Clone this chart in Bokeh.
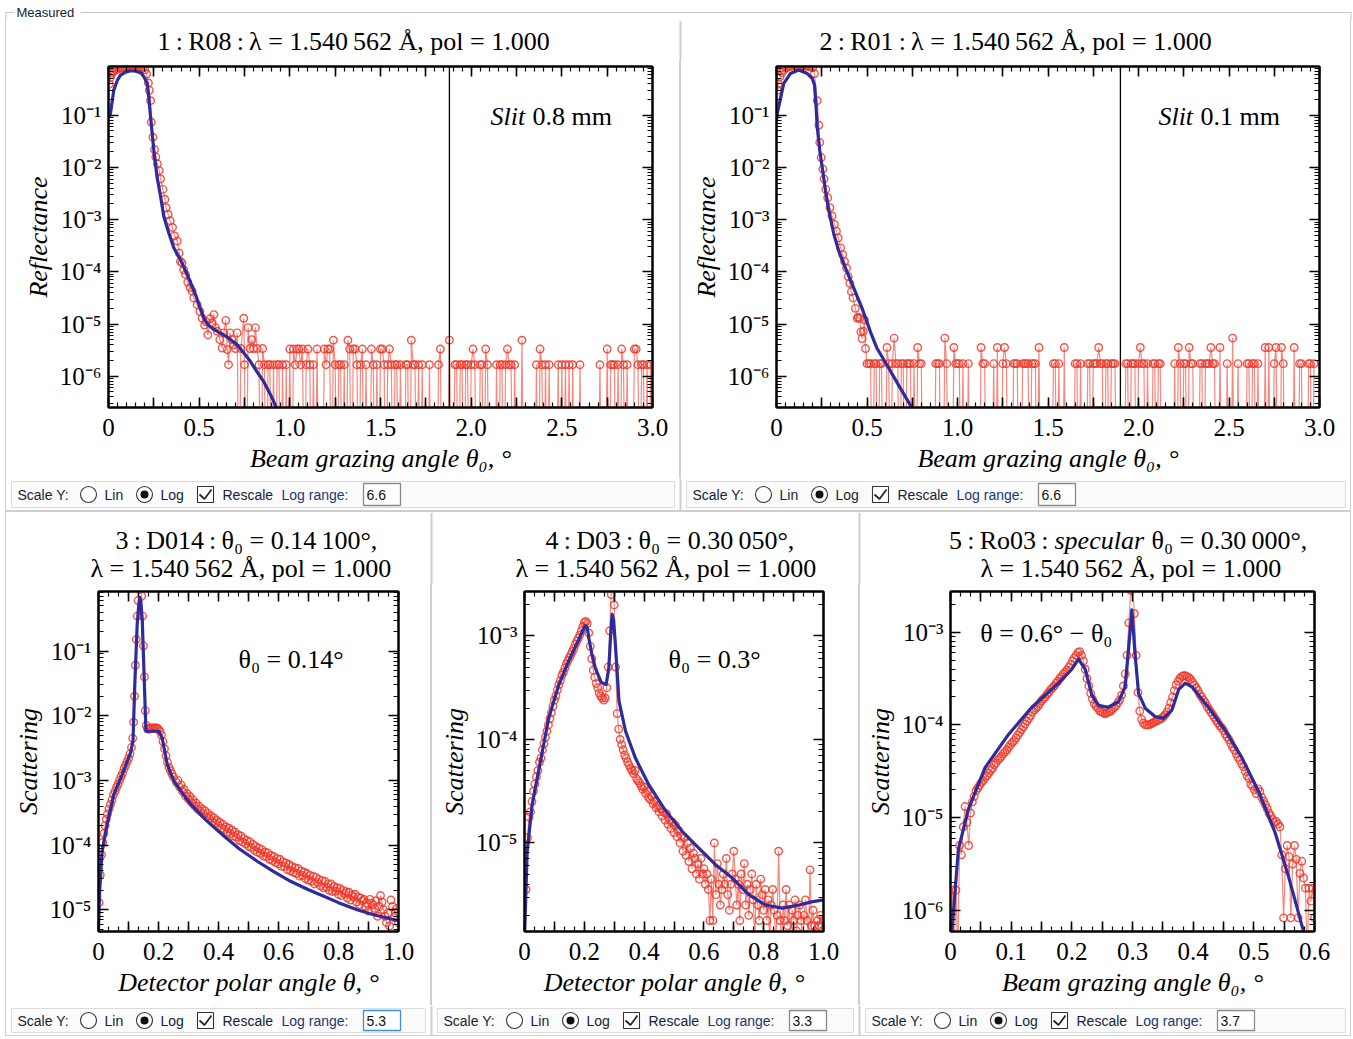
import numpy as np
from bokeh.plotting import figure
from bokeh.models import (FixedTicker, CustomJSTickFormatter, LinearAxis, LogAxis,
                          Label, Span, Range1d, Spacer)
from bokeh.layouts import column, row
from bokeh.embed import file_html
from bokeh.resources import INLINE
from bokeh.core.properties import value

SERIF = "Liberation Serif"
SANS = "Liberation Sans"
RED = "#f0382a"
BLUE = "#2c2c9e"

# ---------------- data (log10 of the plotted intensity) ----------------
# Panel 1: R08, slit 0.8 mm
r08_x = [0.005, 0.01, 0.015, 0.02,
         0.03, 0.04, 0.05, 0.06, 0.07, 0.08, 0.09, 0.10, 0.11, 0.12, 0.13, 0.14, 0.15, 0.16, 0.17, 0.18, 0.19, 0.20, 0.21, 0.22,
         0.225, 0.232, 0.236, 0.245, 0.254, 0.261, 0.27, 0.28, 0.287,
         0.30, 0.311, 0.318, 0.329, 0.34, 0.353, 0.364, 0.379, 0.39, 0.397,
         0.405, 0.415, 0.425, 0.437, 0.45, 0.461, 0.47, 0.489,
         0.504, 0.517, 0.53, 0.539, 0.548, 0.56, 0.572, 0.581, 0.59,
         0.60, 0.614, 0.627, 0.636, 0.647, 0.655, 0.662, 0.67, 0.68, 0.691,
         0.70, 0.71, 0.72, 0.73, 0.746, 0.75, 0.76, 0.77, 0.78, 0.79,
         0.80, 0.81, 0.82, 0.83, 0.84, 0.85]
r08_log = [-0.40, -0.28, -0.22, -0.18,
           -0.155, -0.13, -0.115, -0.10, -0.09, -0.075, -0.065, -0.055, -0.045, -0.04, -0.045, -0.04, -0.045, -0.055, -0.065, -0.075, -0.10, -0.13, -0.21, -0.38,
           -0.52, -0.72, -1.13, -1.42, -1.66, -1.80, -1.93, -2.06, -2.22,
           -2.42, -2.61, -2.77, -2.90, -3.02, -3.15, -3.31, -3.41, -3.64, -3.80,
           -3.83, -3.96, -4.05, -4.20, -4.30, -4.37, -4.50, -4.63,
           -4.76, -4.89, -5.02, -4.96, -5.21, -4.90, -4.98, -4.82, -5.07,
           -5.14, -5.30, -5.46, -5.17, -4.93, -5.49, -5.78, -5.17, -5.30, -5.40,
           -5.47, -5.17, -9.0, -5.47, -4.89, -5.78, -9.0, -5.07, -5.47, -5.30,
           -5.47, -5.07, -5.47, -5.78, -9.0, -5.47]
# counting-noise tail: 0 = no counts, 1/2/3 = one/two/three counts
r08_tail_start = 0.86
r08_tail_step = 0.01
r08_tail_levels = [1, 0, 1, 1, 0, 1, 0, 1, 1, 0,
                   1, 0, 1, 0, 2, 0, 2, 1, 2, 2,
                   1, 2, 0, 1, 2, 1, 0, 1, 0, 2,
                   0, 0, 0, 2, 1, 2, 2, 0, 3, 1,
                   0, 1, 1, 0, 1, 0, 3, 2, 0, 2,
                   2, 1, 0, 1, 2, 0, 1, 0, 0, 2,
                   1, 0, 1, 0, 2, 2, 1, 0, 1, 2,
                   1, 0, 1, 1, 0, 1, 0, 0, 1, 1,
                   0, 3, 1, 1, 0, 1, 0, 1, 0, 0,
                   0, 1, 0, 0, 0, 0, 1, 2, 0, 0,
                   0, 0, 3, 0, 0, 1, 1, 0, 1, 1,
                   0, 1, 1, 0, 1, 2, 1, 0, 0, 1,
                   1, 0, 2, 1, 0, 0, 0, 0, 1, 0,
                   1, 1, 0, 1, 2, 1, 1, 0, 1, 0,
                   0, 0, 3, 0, 0, 0, 0, 0, 0, 0,
                   1, 0, 2, 1, 0, 1, 0, 1, 0, 0,
                   0, 0, 1, 0, 1, 0, 1, 0, 1, 0,
                   1, 0, 0, 0, 1, 0, 0, 0, 0, 0,
                   0, 0, 0, 0, 0, 1, 0, 0, 0, 2,
                   0, 1, 1, 1, 0, 1, 0, 2, 1, 0,
                   1, 0, 0, 0, 2, 2, 1, 0, 1, 1,
                   0, 1, 0, 1]
r08_level_log = [-9.0, -5.78, -5.48, -5.31]
r08_fit_x = [0.0, 0.011, 0.029, 0.05, 0.066, 0.09, 0.121, 0.15, 0.18, 0.195, 0.213, 0.222, 0.232,
             0.25, 0.268, 0.287, 0.305, 0.333, 0.36, 0.397, 0.434, 0.48, 0.526, 0.55, 0.572, 0.6,
             0.636, 0.67, 0.71, 0.75, 0.783, 0.82, 0.857, 0.89, 0.921, 0.95]
r08_fit_log = [-1.05, -0.967, -0.518, -0.32, -0.229, -0.18, -0.146, -0.155, -0.19, -0.26, -0.389, -0.65, -1.03,
               -1.675, -2.19, -2.55, -2.94, -3.26, -3.54, -3.77, -4.05, -4.44, -4.89, -5.02, -5.08, -5.14,
               -5.21, -5.29, -5.40, -5.57, -5.72, -5.92, -6.11, -6.33, -6.56, -6.8]

# Panel 2: R01, slit 0.1 mm
r01_x = [0.005, 0.01,
         0.02, 0.03, 0.04, 0.05, 0.06, 0.07, 0.08, 0.09, 0.10, 0.11, 0.12, 0.13, 0.14, 0.15, 0.16, 0.17, 0.18, 0.19, 0.20, 0.21,
         0.225, 0.234, 0.239, 0.247, 0.256, 0.263, 0.272, 0.283, 0.295, 0.307,
         0.32, 0.331, 0.341, 0.354, 0.366, 0.376, 0.387, 0.396, 0.405, 0.414,
         0.423, 0.436, 0.446, 0.452, 0.46, 0.466, 0.473, 0.48, 0.486, 0.492]
r01_log = [-0.52, -0.40,
           -0.26, -0.18, -0.13, -0.10, -0.08, -0.065, -0.055, -0.05, -0.045, -0.04, -0.04, -0.045, -0.04, -0.05, -0.055, -0.06, -0.06, -0.07, -0.09, -0.2,
           -0.72, -1.19, -1.52, -1.81, -2.03, -2.22, -2.42, -2.58, -2.77, -2.93,
           -3.09, -3.22, -3.35, -3.54, -3.67, -3.80, -3.93, -4.09, -4.22, -4.38,
           -4.50, -4.70, -4.89, -4.87, -4.89, -5.15, -5.28, -5.14, -4.92, -5.47]
r01_tail_start = 0.50
r01_tail_step = 0.01
r01_tail_levels = [1, 1, 1, 0, 1, 1, 0, 1, 1, 0,
                   0, 2, 1, 0, 1, 3, 1, 1, 0, 1,
                   1, 0, 1, 1, 1, 0, 1, 0, 2, 1,
                   1, 0, 0, 0, 0, 0, 0, 0, 1, 1,
                   1, 0, 0, 3, 1, 0, 0, 0, 2, 1,
                   1, 1, 0, 1, 0, 0, 1, 0, 0, 0,
                   0, 0, 0, 2, 1, 1, 0, 0, 0, 0,
                   1, 0, 2, 0, 0, 1, 2, 1, 0, 0,
                   0, 1, 1, 1, 0, 0, 1, 1, 1, 1,
                   0, 1, 1, 1, 0, 2, 0, 0, 0, 0,
                   0, 0, 0, 1, 1, 0, 1, 0, 0, 2,
                   0, 0, 0, 0, 0, 1, 1, 0, 1, 0,
                   0, 0, 1, 1, 0, 1, 1, 1, 2, 1,
                   1, 0, 1, 1, 0, 1, 1, 1, 0, 0,
                   0, 0, 0, 1, 1, 0, 1, 1, 1, 0,
                   1, 2, 1, 1, 0, 1, 0, 0, 1, 1,
                   0, 1, 1, 0, 0, 0, 0, 0, 0, 0,
                   1, 0, 2, 1, 0, 1, 1, 0, 2, 1,
                   1, 0, 0, 0, 1, 1, 0, 1, 1, 1,
                   2, 1, 1, 0, 0, 2, 0, 0, 0, 1,
                   0, 0, 3, 0, 0, 1, 0, 0, 0, 0,
                   1, 1, 0, 1, 1, 0, 1, 0, 0, 0,
                   2, 0, 2, 0, 0, 1, 2, 0, 0, 2,
                   1, 0, 0, 0, 0, 0, 2, 0, 0, 1,
                   1, 0, 0, 0, 1, 1, 0, 1]
r01_level_log = [-9.0, -5.76, -5.45, -5.27]
r01_fit_x = [0.0, 0.004, 0.04, 0.077, 0.123, 0.17, 0.197, 0.21, 0.218, 0.225, 0.239, 0.258, 0.271,
             0.289, 0.317, 0.344, 0.381, 0.427, 0.473, 0.519, 0.556, 0.611, 0.676, 0.74, 0.76]
r01_fit_log = [-1.1, -0.967, -0.39, -0.2, -0.132, -0.2, -0.29, -0.42, -0.8, -1.226, -1.68, -2.13, -2.45,
               -2.83, -3.28, -3.60, -3.93, -4.31, -4.70, -5.15, -5.47, -5.79, -6.18, -6.56, -6.7]

# Panel 3: D014, theta0 = 0.141 deg
d014_x = [0.002, 0.006, 0.010, 0.014, 0.018, 0.022, 0.026, 0.030,
          0.035, 0.040, 0.045, 0.050, 0.055, 0.060, 0.065, 0.070, 0.075, 0.080, 0.085, 0.090, 0.095, 0.100, 0.105, 0.110,
          0.114, 0.117,
          0.120, 0.123, 0.126, 0.129, 0.132, 0.135, 0.138, 0.141, 0.144, 0.147, 0.150, 0.153, 0.156, 0.159,
          0.163, 0.167, 0.171, 0.175,
          0.180, 0.185, 0.190, 0.195, 0.200, 0.205, 0.210, 0.215, 0.220, 0.225, 0.230, 0.235, 0.240, 0.245, 0.250]
d014_log = [-4.89, -4.46, -4.15, -3.96, -3.82, -3.70, -3.60, -3.52,
            -3.44, -3.37, -3.30, -3.22, -3.17, -3.11, -3.06, -3.00, -2.94, -2.89, -2.82, -2.77, -2.71, -2.66, -2.59, -2.49,
            -2.35, -2.10,
            -1.70, -1.22, -0.82, -0.46, -0.22, -0.05, 0.0, -0.02, -0.15, -0.46, -0.92, -1.40, -1.92, -2.15,
            -2.20, -2.21, -2.20, -2.19,
            -2.19, -2.19, -2.19, -2.19, -2.21, -2.24, -2.30, -2.40, -2.51, -2.62, -2.72, -2.80, -2.85, -2.90, -2.95]
d014_tail_start = 0.26
d014_tail_step = 0.01
d014_tail_log = [-3.03, -3.10, -3.17, -3.24, -3.29, -3.34, -3.39, -3.44, -3.48, -3.52,
                 -3.56, -3.59, -3.64, -3.66, -3.70, -3.74, -3.76, -3.80, -3.82, -3.86,
                 -3.88, -3.93, -3.95, -3.98, -4.02, -4.04, -4.08, -4.11, -4.13, -4.17,
                 -4.18, -4.22, -4.24, -4.27, -4.29, -4.33, -4.33, -4.38, -4.40, -4.42,
                 -4.44, -4.48, -4.47, -4.52, -4.54, -4.56, -4.60, -4.58, -4.63, -4.66,
                 -4.65, -4.70, -4.72, -4.71, -4.76, -4.78, -4.75, -4.82, -4.85, -4.80,
                 -4.88, -4.92, -4.86, -4.95, -5.02, -4.90, -4.98, -5.10, -4.78, -5.00,
                 -5.20, -5.25, -4.95, -5.05, -5.20]
# upper edge of the scattered band (interleaved detector positions)
d014_band_start = 0.265
d014_band_step = 0.01
d014_band_log = [-3.00, -3.07, -3.14, -3.20, -3.25, -3.30, -3.35, -3.40, -3.44, -3.47,
                 -3.51, -3.55, -3.58, -3.62, -3.65, -3.68, -3.72, -3.74, -3.77, -3.80,
                 -3.84, -3.86, -3.90, -3.93, -3.95, -3.99, -4.02, -4.05, -4.07, -4.11,
                 -4.12, -4.16, -4.18, -4.21, -4.22, -4.26, -4.28, -4.30, -4.33, -4.35,
                 -4.36, -4.40, -4.42, -4.44, -4.47, -4.48, -4.50, -4.53, -4.55, -4.56,
                 -4.60, -4.60, -4.64, -4.66, -4.67, -4.70, -4.72, -4.73, -4.77, -4.76,
                 -4.80, -4.82, -4.84, -4.90, -4.84, -4.92, -4.86, -4.95, -4.88, -5.10,
                 -5.05, -4.85, -5.12, -4.98]
d014_fit_x = [0.0, 0.004, 0.012, 0.029, 0.051, 0.079, 0.107, 0.115, 0.121, 0.129, 0.134, 0.138, 0.142,
              0.146, 0.153, 0.158, 0.168, 0.185, 0.201, 0.212, 0.229, 0.251, 0.28, 0.307, 0.362, 0.418,
              0.47, 0.529, 0.58, 0.64, 0.70, 0.751, 0.80, 0.862, 0.92, 0.984, 1.0]
d014_fit_log = [-5.3, -4.7, -4.10, -3.68, -3.22, -2.91, -2.57, -2.39, -1.52, -0.587, -0.30, -0.17, -0.30,
                -0.535, -1.52, -2.24, -2.24, -2.24, -2.24, -2.34, -2.75, -3.01, -3.2, -3.37, -3.63, -3.86,
                -4.06, -4.25, -4.40, -4.56, -4.69, -4.79, -4.89, -5.0, -5.08, -5.15, -5.17]

# Panel 4: D03, theta0 = 0.3005 deg (sampled every 0.005 deg from 0.005)
d03_start = 0.005
d03_step = 0.005
d03_log = [-5.45, -4.95, -4.75, -4.70, -4.60, -4.50, -4.43, -4.36, -4.30, -4.22,
           -4.18, -4.10, -4.04, -3.98, -3.92, -3.86, -3.80, -3.74, -3.68, -3.62,
           -3.58, -3.52, -3.47, -3.43, -3.38, -3.35, -3.31, -3.27, -3.24, -3.21,
           -3.18, -3.15, -3.12, -3.08, -3.05, -3.02, -2.99, -2.95, -2.91, -2.87,
           -2.86, -2.88, -2.97, -3.10, -3.22, -3.33, -3.40, -3.46, -3.50, -3.55,
           -3.58, -3.60, -3.62, -3.60, -3.50, -3.30, -2.95, -2.60, -2.52, -2.70,
           -3.30, -3.75, -3.90, -4.00, -4.05, -4.10, -4.15, -4.18, -4.22, -4.25,
           -4.28, -4.30, -4.33, -4.30, -4.38, -4.40, -4.42, -4.45, -4.48, -4.46,
           -4.52, -4.50, -4.56, -4.58, -4.55, -4.62, -4.60, -4.66, -4.64, -4.70,
           -4.67, -4.74, -4.70, -4.78, -4.72, -4.82, -4.78, -4.86, -4.80, -4.90,
           -4.83, -4.94, -4.88, -5.00, -4.93, -5.08, -4.95, -5.12, -5.00, -5.18,
           -5.05, -5.25, -5.10, -5.15, -5.30, -5.20, -5.35, -5.15, -5.30, -5.25,
           -5.40, -5.30, -5.45, -5.75, -5.35, -5.75, -5.00, -5.50, -5.20, -5.40,
           -5.60, -5.45, -5.30, -5.40, -5.15, -5.50, -5.65, -5.40, -5.30, -5.08,
           -5.35, -5.60, -5.40, -5.75, -5.30, -5.45, -5.20, -5.60, -5.40, -5.70,
           -5.45, -5.30, -5.55, -5.95, -5.40, -5.60, -5.75, -5.35, -5.50, -5.65,
           -5.45, -5.75, -5.55, -5.95, -5.60, -5.45, -5.65, -5.95, -5.70, -5.08,
           -5.75, -5.95, -5.60, -5.75, -5.45, -5.80, -5.60, -5.95, -5.65, -5.75,
           -5.55, -5.85, -5.70, -5.60, -5.75, -5.95, -5.70, -5.55, -5.75, -5.90,
           -5.26, -5.80, -5.65, -5.80, -5.95, -5.75, -5.80, -5.70, -5.85, -5.75]
d03_fit_x = [0.0, 0.0011, 0.009, 0.0257, 0.0535, 0.081, 0.115, 0.148, 0.182, 0.198, 0.204, 0.21, 0.215,
             0.225, 0.237, 0.257, 0.273, 0.282, 0.288, 0.293, 0.298, 0.304, 0.316, 0.338, 0.371, 0.416,
             0.472, 0.528, 0.583, 0.639, 0.695, 0.75, 0.806, 0.862, 0.918, 0.96, 1.0]
d03_fit_log = [-6.2, -5.82, -5.08, -4.63, -4.21, -3.79, -3.47, -3.24, -3.03, -2.93, -2.90, -2.92, -3.02,
               -3.17, -3.31, -3.45, -3.47, -3.31, -3.0, -2.79, -2.85, -3.08, -3.63, -3.92, -4.18, -4.44,
               -4.69, -4.89, -5.05, -5.21, -5.34, -5.50, -5.60, -5.63, -5.60, -5.57, -5.55]

# Panel 5: Ro03, specular theta0 = 0.3 deg, theta = 0.6 - theta0 (sampled every 0.003 deg)
ro03_start = 0.003
ro03_step = 0.003
ro03_log = [-5.78, -6.5, -5.78, -6.5, -5.30, -5.40, -5.10, -4.88, -5.05, -5.30,
            -4.95, -4.83, -4.77, -4.71, -4.68, -4.65, -4.62, -4.60, -4.57, -4.55,
            -4.52, -4.49, -4.47, -4.43, -4.41, -4.38, -4.36, -4.34, -4.31, -4.29,
            -4.27, -4.24, -4.21, -4.19, -4.17, -4.14, -4.11, -4.08, -4.05, -4.02,
            -3.99, -3.96, -3.93, -3.90, -3.86, -3.84, -3.82, -3.80, -3.77, -3.74,
            -3.72, -3.70, -3.67, -3.65, -3.62, -3.60, -3.58, -3.55, -3.53, -3.50,
            -3.48, -3.45, -3.43, -3.41, -3.38, -3.35, -3.31, -3.28, -3.25, -3.22,
            -3.21, -3.25, -3.31, -3.40, -3.50, -3.58, -3.66, -3.72, -3.77, -3.80,
            -3.82, -3.85, -3.86, -3.87, -3.88, -3.87, -3.86, -3.85, -3.83, -3.81,
            -3.79, -3.76, -3.73, -3.68, -3.58, -3.45, -3.25, -2.90, -2.55, -2.48,
            -2.80, -3.25, -3.65, -3.85, -3.94, -3.98, -4.00, -4.00, -4.00, -3.99,
            -3.98, -3.97, -3.96, -3.95, -3.94, -3.93, -3.91, -3.89, -3.86, -3.82,
            -3.76, -3.70, -3.63, -3.57, -3.53, -3.50, -3.48, -3.47, -3.47, -3.48,
            -3.49, -3.51, -3.54, -3.57, -3.60, -3.63, -3.67, -3.70, -3.73, -3.76,
            -3.80, -3.83, -3.86, -3.89, -3.92, -3.95, -3.98, -4.01, -4.03, -4.06,
            -4.10, -4.13, -4.16, -4.20, -4.24, -4.27, -4.31, -4.35, -4.38, -4.42,
            -4.45, -4.50, -4.55, -4.58, -4.64, -4.66, -4.70, -4.74, -4.69, -4.72,
            -4.78, -4.82, -4.86, -4.90, -4.95, -4.98, -5.02, -5.05, -5.04, -5.07,
            -5.10, -5.40, -6.08, -5.55, -5.30, -5.42, -6.08, -5.50, -5.30, -5.45,
            -6.08, -5.60, -5.47, -5.65, -5.76, -6.5, -5.76, -5.90, -5.76, -6.08]
ro03_fit_x = [0.0021, 0.013, 0.030, 0.057, 0.096, 0.134, 0.178, 0.200, 0.211, 0.222, 0.233, 0.244,
              0.26, 0.277, 0.288, 0.293, 0.299, 0.304, 0.31, 0.321, 0.337, 0.351, 0.365, 0.376,
              0.387, 0.398, 0.425, 0.453, 0.48, 0.508, 0.535, 0.557, 0.58, 0.585]
ro03_fit_log = [-6.25, -5.34, -4.90, -4.46, -4.10, -3.81, -3.55, -3.40, -3.29, -3.40, -3.68, -3.79,
                -3.81, -3.75, -3.59, -3.22, -2.76, -3.22, -3.66, -3.82, -3.91, -3.93, -3.84, -3.62,
                -3.55, -3.59, -3.81, -4.06, -4.35, -4.72, -5.16, -5.63, -6.18, -6.3]

# axis limits (log10 for y)
y_lims = {
    "p1": (-6.60, -0.065), "p2": (-6.60, -0.065),
    "p3": (-5.336, -0.08), "p4": (-5.856, -2.57), "p5": (-6.227, -2.562),
}
slit_cut = [1.88, 1.90]
log_ranges = ["6.6", "6.6", "5.3", "3.3", "3.7"]

# ---------------- helpers ----------------
LOG_FMT_CODE = """
const sup = {"-":"\u207b","0":"\u2070","1":"\u00b9","2":"\u00b2","3":"\u00b3","4":"\u2074","5":"\u2075","6":"\u2076","7":"\u2077","8":"\u2078","9":"\u2079"};
const e = Math.round(Math.log10(tick));
let s = "";
for (const ch of String(e)) { s += sup[ch]; }
return "10" + s;
"""
BLANK_FMT_CODE = 'return "";'


def xfmt(lab):
    return CustomJSTickFormatter(args=dict(lab=lab), code="""
if (Math.abs(tick) < 1e-9) { return "0"; }
const q = tick / lab;
if (Math.abs(q - Math.round(q)) > 1e-6) { return ""; }
return tick.toFixed(1);
""")


def style_axis(ax, labels=True, xaxis=False):
    ax.axis_line_color = "black"
    ax.axis_line_width = 2
    ax.major_tick_line_color = "black"
    ax.minor_tick_line_color = "black"
    ax.major_tick_line_width = 1.6
    ax.minor_tick_line_width = 1.2
    ax.major_tick_in = 10
    ax.major_tick_out = 0
    ax.minor_tick_in = 5
    ax.minor_tick_out = 0
    if labels:
        ax.major_label_text_font = SERIF
        ax.major_label_text_font_size = "25px"
        ax.major_label_text_color = "black"
        ax.major_label_standoff = 11 if xaxis else 7
        ax.axis_label_text_font = SERIF
        ax.axis_label_text_font_size = "26px"
        ax.axis_label_text_font_style = "italic"
        ax.axis_label_text_color = "black"
        ax.axis_label_standoff = 5 if xaxis else 4
    else:
        ax.formatter = CustomJSTickFormatter(code=BLANK_FMT_CODE)
        ax.major_label_text_font_size = "2px"
        ax.major_label_standoff = 0


def make_plot(w, h, bl, br, bt, bb, xr, ylog, xmaj, xmin, xlab, xlabel, ylabel):
    p = figure(width=w, height=h, x_range=Range1d(*xr),
               y_range=Range1d(10.0 ** ylog[0], 10.0 ** ylog[1]),
               y_axis_type="log", output_backend="svg", toolbar_location=None, title=None,
               min_border_left=bl, min_border_right=br, min_border_top=bt, min_border_bottom=bb)
    p.grid.visible = False
    p.outline_line_color = "black"
    p.outline_line_width = 2
    p.background_fill_color = "white"
    p.border_fill_color = "white"
    lo = int(np.floor(ylog[0])) - 1
    hi = int(np.ceil(ylog[1])) + 1
    ymaj = [10.0 ** e for e in range(lo, hi + 1)]
    ymin = [k * 10.0 ** e for e in range(lo, hi + 1) for k in range(2, 10)]
    xt = FixedTicker(ticks=list(xmaj), minor_ticks=list(xmin))
    yt = FixedTicker(ticks=ymaj, minor_ticks=ymin)
    xa = p.xaxis[0]
    ya = p.yaxis[0]
    xa.ticker = xt
    ya.ticker = yt
    xa.formatter = xfmt(xlab)
    ya.formatter = CustomJSTickFormatter(code=LOG_FMT_CODE)
    xa.axis_label = xlabel
    ya.axis_label = ylabel
    style_axis(xa, xaxis=True)
    style_axis(ya)
    top = LinearAxis(ticker=xt)
    right = LogAxis(ticker=yt)
    style_axis(top, labels=False)
    style_axis(right, labels=False)
    p.add_layout(top, "above")
    p.add_layout(right, "right")
    return p


def series(xs, logs):
    n = min(len(xs), len(logs))
    return list(xs[:n]), [10.0 ** v for v in logs[:n]]


def grid(start, step, n):
    return [round(start + step * i, 5) for i in range(n)]


def draw_meas(p, xs, ys, size=7.5, line=True):
    if line:
        p.line(xs, ys, line_color=RED, line_alpha=0.6, line_width=1.2)
    p.scatter(xs, ys, marker="circle", size=size, fill_color=None,
              line_color=RED, line_alpha=0.85, line_width=1.4)


def draw_fit(p, xs, ys):
    p.line(xs, ys, line_color=BLUE, line_width=3.2, line_join="round")


def add_label(p, x, y, text, italic=False, x_offset=0):
    p.add_layout(Label(x=x, y=y, text=text, x_offset=x_offset, text_font=SERIF,
                       text_font_size="26px", text_font_style="italic" if italic else "normal",
                       text_baseline="middle", text_align="left", text_color="black"))


def strip(h, seps):
    """A full-width band (pixel coordinates, y downwards) for titles / control bars."""
    s = figure(width=1344, height=h, x_range=Range1d(0, 1344), y_range=Range1d(h, 0),
               x_axis_type=None, y_axis_type=None, output_backend="svg",
               toolbar_location=None, min_border=0, title=None)
    s.outline_line_color = None
    s.background_fill_color = "white"
    s.border_fill_color = "white"
    s.grid.visible = False
    if seps:
        s.segment(x0=seps, y0=[0] * len(seps), x1=seps, y1=[h] * len(seps),
                  line_color="#cfcfcf", line_width=2)
    return s


def title_text(s, x, y, text, italic=False, align="left"):
    s.text(x=[x], y=[y], text=[text], text_font=value(SERIF), text_font_size="26px",
           text_font_style="italic" if italic else "normal", text_baseline="middle",
           text_align=align, text_color="black")


def draw_controls(c, ox, pw, h, log_range, focused=False):
    cy = h / 2.0
    c.rect(x=[ox + pw / 2.0], y=[cy], width=[pw - 10], height=[h - 6],
           fill_color="#fbfbfb", line_color="#dcdcdc", line_width=1)
    txt = dict(text_font=value(SANS), text_font_size="14px", text_baseline="middle", text_align="left")
    c.text(x=[ox + 11, ox + 98, ox + 154, ox + 216], y=[cy] * 4,
           text=["Scale Y:", "Lin", "Log", "Rescale"], text_color="#14233a", **txt)
    c.text(x=[ox + 275], y=[cy], text=["Log range:"], text_color="#1c3870", **txt)
    c.scatter(x=[ox + 82, ox + 138], y=[cy, cy], size=16, marker="circle", fill_color="white",
              line_color="#333333", line_width=1.1)
    c.scatter(x=[ox + 138], y=[cy], size=8, marker="circle", fill_color="#111111", line_color=None)
    c.rect(x=[ox + 199], y=[cy], width=[16], height=[16], fill_color="white", line_color="#333333",
           line_width=1.1)
    c.line(x=[ox + 193, ox + 198, ox + 205], y=[cy, cy + 4.5, cy - 5], line_color="#222222", line_width=1.7)
    c.rect(x=[ox + 375.5], y=[cy], width=[37], height=[h - 10], fill_color="white",
           line_color="#3d8ee0" if focused else "#8a8a8a", line_width=1.3)
    c.text(x=[ox + 360], y=[cy], text=[log_range], text_color="#111111", **txt)


# ---------------- panels ----------------
X_BEAM = "Beam grazing angle \u03b8\u2080, \u00b0"
X_DET = "Detector polar angle \u03b8, \u00b0"

top_maj = np.round(np.arange(0, 3.0001, 0.25), 4)
top_min = np.round(np.arange(0, 3.0001, 0.05), 4)
mid_maj = np.round(np.arange(0, 1.0001, 0.1), 4)
mid_min = np.round(np.arange(0, 1.0001, 1 / 30), 4)
p5_maj = np.round(np.arange(0, 0.6001, 0.05), 4)
p5_min = np.round(np.arange(0, 0.6001, 1 / 60), 4)

# Panel 1
p1 = make_plot(673, 418, 102, 27, 6, 71, (0, 3.0), y_lims["p1"], top_maj, top_min, 0.5, X_BEAM, "Reflectance")
x, y = series(r08_x, r08_log)
tx = grid(r08_tail_start, r08_tail_step, len(r08_tail_levels))
ty = [10.0 ** r08_level_log[k] for k in r08_tail_levels]
draw_meas(p1, x + tx, y + ty)
draw_fit(p1, *series(r08_fit_x, r08_fit_log))
p1.add_layout(Span(location=slit_cut[0], dimension="height", line_color="black", line_width=1.3))
add_label(p1, 2.107, 10.0 ** -1.02, "Slit", italic=True)
add_label(p1, 2.107, 10.0 ** -1.02, "0.8 mm", x_offset=42)

# Panel 2
p2 = make_plot(669, 418, 95, 31, 6, 71, (0, 3.0), y_lims["p2"], top_maj, top_min, 0.5, X_BEAM, "Reflectance")
x, y = series(r01_x, r01_log)
tx = grid(r01_tail_start, r01_tail_step, len(r01_tail_levels))
ty = [10.0 ** r01_level_log[k] for k in r01_tail_levels]
draw_meas(p2, x + tx, y + ty)
draw_fit(p2, *series(r01_fit_x, r01_fit_log))
p2.add_layout(Span(location=slit_cut[1], dimension="height", line_color="black", line_width=1.3))
add_label(p2, 2.11, 10.0 ** -1.02, "Slit", italic=True)
add_label(p2, 2.11, 10.0 ** -1.02, "0.1 mm", x_offset=42)

# Panel 3
p3 = make_plot(424, 421, 92, 32, 7, 74, (0, 1.0), y_lims["p3"], mid_maj, mid_min, 0.2, X_DET, "Scattering")
x, y = series(d014_x, d014_log)
tx = grid(d014_tail_start, d014_tail_step, len(d014_tail_log))
ty = [10.0 ** v for v in d014_tail_log]
draw_meas(p3, x + tx, y + ty)
bx = grid(d014_band_start, d014_band_step, len(d014_band_log))
draw_meas(p3, *series(bx, d014_band_log), line=False)
draw_fit(p3, *series(d014_fit_x, d014_fit_log))
add_label(p3, 0.467, 10.0 ** -1.13, "\u03b8\u2080 = 0.14\u00b0")

# Panel 4
p4 = make_plot(426, 421, 92, 35, 7, 74, (0, 1.0), y_lims["p4"], mid_maj, mid_min, 0.2, X_DET, "Scattering")
xs4 = grid(d03_start, d03_step, len(d03_log))
draw_meas(p4, *series(xs4, d03_log))
draw_fit(p4, *series(d03_fit_x, d03_fit_log))
add_label(p4, 0.482, 10.0 ** -3.225, "\u03b8\u2080 = 0.3\u00b0")

# Panel 5
p5 = make_plot(490, 421, 90, 36, 7, 74, (0, 0.6), y_lims["p5"], p5_maj, p5_min, 0.1, X_BEAM, "Scattering")
xs5 = grid(ro03_start, ro03_step, len(ro03_log))
draw_meas(p5, *series(xs5, ro03_log))
draw_fit(p5, *series(ro03_fit_x, ro03_fit_log))
add_label(p5, 0.049, 10.0 ** -3.01, "\u03b8 = 0.6\u00b0 \u2212 \u03b8\u2080")

# title strips (x measured from the left edge of the content area)
top_titles = strip(40, [674])
title_text(top_titles, 151, 21, "1\u2009:\u2009R08\u2009:\u2009\u03bb = 1.540\u2009562 \u00c5, pol = 1.000")
title_text(top_titles, 813, 21, "2\u2009:\u2009R01\u2009:\u2009\u03bb = 1.540\u2009562 \u00c5, pol = 1.000")

bot_titles = strip(72, [425, 853])
title_text(bot_titles, 109, 28, "3\u2009:\u2009D014\u2009:\u2009\u03b8\u2080 = 0.14\u2009100\u00b0,")
title_text(bot_titles, 84, 56, "\u03bb = 1.540\u2009562 \u00c5, pol = 1.000")
title_text(bot_titles, 539, 28, "4\u2009:\u2009D03\u2009:\u2009\u03b8\u2080 = 0.30\u2009050\u00b0,")
title_text(bot_titles, 509, 56, "\u03bb = 1.540\u2009562 \u00c5, pol = 1.000")
title_text(bot_titles, 1042, 28, "5\u2009:\u2009Ro03\u2009:", align="right")
title_text(bot_titles, 1048, 28, "specular", italic=True)
title_text(bot_titles, 1145, 28, "\u03b8\u2080 = 0.30\u2009000\u00b0,")
title_text(bot_titles, 974, 56, "\u03bb = 1.540\u2009562 \u00c5, pol = 1.000")

# control strips
top_ctrl = strip(32, [674])
draw_controls(top_ctrl, 0, 673, 32, log_ranges[0])
draw_controls(top_ctrl, 675, 669, 32, log_ranges[1])
bot_ctrl = strip(30, [425, 853])
draw_controls(bot_ctrl, 0, 424, 30, log_ranges[2], focused=True)
draw_controls(bot_ctrl, 426, 426, 30, log_ranges[3])
draw_controls(bot_ctrl, 854, 490, 30, log_ranges[4])

# header with group-box caption
hdr = figure(width=1353, height=20, x_range=Range1d(0, 1353), y_range=Range1d(20, 0),
             x_axis_type=None, y_axis_type=None, output_backend="svg",
             toolbar_location=None, min_border=0, title=None)
hdr.outline_line_color = None
hdr.grid.visible = False
hdr.segment(x0=[5, 80, 5.5, 1350.5], y0=[12, 12, 12, 12], x1=[14, 1351, 5.5, 1350.5], y1=[12, 12, 20, 20],
            line_color="#c4c4c4", line_width=1)
hdr.text(x=[16], y=[12], text=["Measured"], text_font=value(SANS), text_font_size="13px",
         text_baseline="middle", text_align="left", text_color="#14233a")

GRAY = {"background-color": "#cfcfcf"}
top_row = row(p1, Spacer(width=2, height=418, styles=GRAY), p2)
bot_row = row(p3, Spacer(width=2, height=421, styles=GRAY), p4, Spacer(width=2, height=421, styles=GRAY), p5)
content = column(top_titles, top_row, top_ctrl, Spacer(width=1344, height=2, styles=GRAY),
                 bot_titles, bot_row, bot_ctrl, Spacer(width=1344, height=1, styles=GRAY))
main = row(Spacer(width=5, height=1016), Spacer(width=1, height=1016, styles=GRAY), content,
           Spacer(width=1, height=1016, styles=GRAY), Spacer(width=2, height=1016))
root = column(hdr, main)

open("out.html", "w").write(file_html(root, INLINE))
